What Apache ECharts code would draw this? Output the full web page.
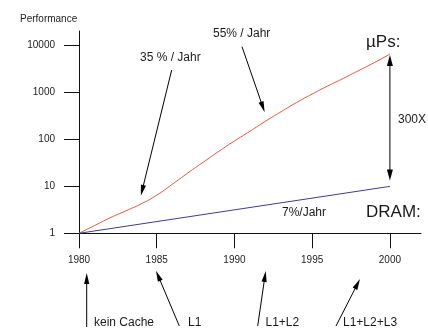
<!DOCTYPE html>
<html>
<head>
<meta charset="utf-8">
<script src="https://cdn.jsdelivr.net/npm/echarts@6/dist/echarts.min.js"></script>
<style>
  html, body { margin: 0; padding: 0; background: #fff; }
  #chart { width: 428px; height: 335px; }
</style>
</head>
<body>
<div id="chart"></div>
<script>
// Processor vs. DRAM performance, relative to 1980 (log scale)
const years = [1980, 1981, 1982, 1983, 1984, 1985, 1986, 1987, 1988, 1989, 1990,
               1991, 1992, 1993, 1994, 1995, 1996, 1997, 1998, 1999, 2000];
const cpuPerf = [1, 1.46, 2.14, 3.0, 4.24, 6.5, 11.1, 19.3, 33, 56, 93,
                 150, 245, 390, 615, 930, 1380, 2000, 2950, 4350, 6600];
const dramYears = [1980, 2000];
const dramPerf = [1, 10];
const xTicks = [1980, 1985, 1990, 1995, 2000];
const yTicks = [1, 10, 100, 1000, 10000];

const FONT = '"Liberation Sans", Arial, Helvetica, sans-serif';
const chart = echarts.init(document.getElementById('chart'), null, { renderer: 'canvas' });

chart.setOption({
  animation: false,
  backgroundColor: '#fff',
  textStyle: { fontFamily: FONT },
  grid: { left: 79, right: 7, top: 31, bottom: 101.7, containLabel: false },
  xAxis: {
    type: 'value',
    min: 1980,
    max: 2002,
    axisLine: { lineStyle: { color: '#111', width: 1 } },
    axisTick: { show: true, length: 15, customValues: xTicks, lineStyle: { color: '#111', width: 1 } },
    axisLabel: { customValues: xTicks, margin: 22, color: '#222', fontSize: 10, fontFamily: FONT,
                 formatter: v => String(v) },
    splitLine: { show: false }
  },
  yAxis: {
    type: 'log',
    logBase: 10,
    min: 1,
    max: 20500,
    axisLine: { show: true, lineStyle: { color: '#111', width: 1 } },
    axisTick: { show: true, length: 15, customValues: yTicks, lineStyle: { color: '#111', width: 1 } },
    axisLabel: { customValues: yTicks, margin: 24, color: '#222', fontSize: 10, fontFamily: FONT,
                 formatter: v => String(Math.round(v)) },
    splitLine: { show: false }
  },
  series: [
    {
      name: 'µPs',
      type: 'line',
      data: years.map((y, i) => [y, cpuPerf[i]]),
      showSymbol: false,
      smooth: 0.5,
      lineStyle: { color: '#e2553f', width: 1 },
      z: 3
    },
    {
      name: 'DRAM',
      type: 'line',
      data: dramYears.map((y, i) => [y, dramPerf[i]]),
      showSymbol: false,
      lineStyle: { color: '#3d3d8f', width: 1 },
      z: 3
    }
  ]
});

// annotation helpers
function arrowHead(tx, ty, fx, fy, len, half) {
  const dx = tx - fx, dy = ty - fy;
  const d = Math.hypot(dx, dy);
  const ux = dx / d, uy = dy / d;
  const bx = tx - ux * len, by = ty - uy * len;
  return {
    type: 'polygon',
    shape: { points: [[tx, ty], [bx - uy * half, by + ux * half], [bx + uy * half, by - ux * half]] },
    style: { fill: '#000' },
    silent: true
  };
}
function arrow(x1, y1, x2, y2) {
  const len = 11, half = 2.6;
  const d = Math.hypot(x2 - x1, y2 - y1);
  const sx = x2 - (x2 - x1) / d * (len - 2), sy = y2 - (y2 - y1) / d * (len - 2);
  return [
    { type: 'line', shape: { x1, y1, x2: sx, y2: sy }, style: { stroke: '#000', lineWidth: 1 }, silent: true },
    arrowHead(x2, y2, x1, y1, len, half)
  ];
}
function doubleArrow(x, y1, y2) {
  const len = 11, half = 3;
  return [
    { type: 'line', shape: { x1: x, y1: y1 + len - 2, x2: x, y2: y2 - len + 2 }, style: { stroke: '#000', lineWidth: 1 }, silent: true },
    arrowHead(x, y1, x, y2, len, half),
    arrowHead(x, y2, x, y1, len, half)
  ];
}
function label(text, x, y, size) {
  return {
    type: 'text', x, y, silent: true,
    style: { text, fill: '#1a1a1a', font: size + 'px ' + FONT, textVerticalAlign: 'middle', verticalAlign: 'middle' }
  };
}

const last = years.length - 1;
const cpuEnd = chart.convertToPixel({ gridIndex: 0 }, [years[last], cpuPerf[last]]);
const dramEnd = chart.convertToPixel({ gridIndex: 0 }, [dramYears[1], dramPerf[1]]);
const cpu1984 = chart.convertToPixel({ gridIndex: 0 }, [1984.3, 4.7]);
const cpu1992 = chart.convertToPixel({ gridIndex: 0 }, [1992.2, 270]);

const g = [];
g.push(label('Performance', 20, 19, 10));
g.push(label('35 % / Jahr', 140, 58, 12));
g.push(...arrow(171.7, 70, cpu1984[0] - 5, cpu1984[1] - 6));
g.push(label('55% / Jahr', 213, 34, 12));
g.push(...arrow(242, 46.7, cpu1992[0] - 4, cpu1992[1] - 7));
g.push(label('µPs:', 366, 42, 17));
g.push(label('DRAM:', 366, 212.5, 17));
g.push(label('300X', 398, 119.5, 12));
g.push(...doubleArrow(cpuEnd[0], cpuEnd[1] + 1, dramEnd[1] - 6));
g.push(label('7%/Jahr', 282, 213, 12));

g.push(label('kein Cache', 94, 322.7, 12));
g.push(...arrow(86.7, 327, 86.7, 273));
g.push(label('L1', 188, 322.7, 12));
g.push(...arrow(179.3, 326, 156, 270.7));
g.push(label('L1+L2', 265.5, 322.7, 12));
g.push(...arrow(257.7, 326, 265.7, 271));
g.push(label('L1+L2+L3', 343, 322.7, 12));
g.push(...arrow(336, 326, 360, 279));

chart.setOption({ graphic: { elements: g } });
</script>
</body>
</html>
